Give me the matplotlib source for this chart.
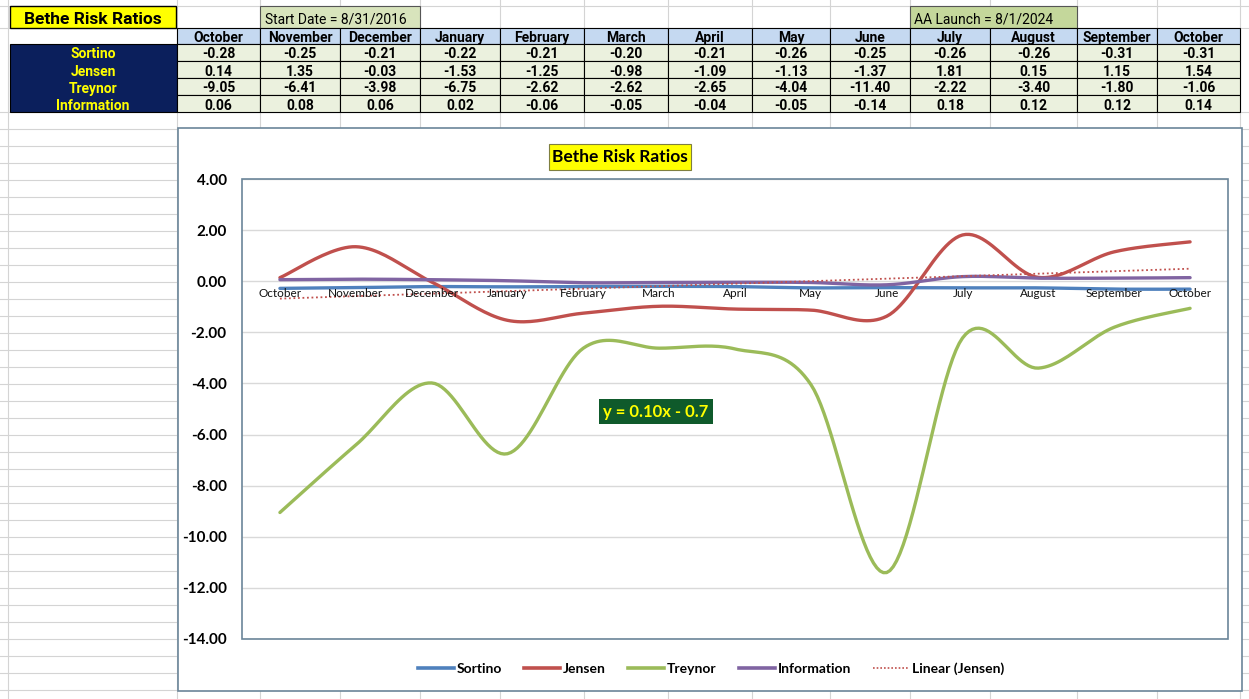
import numpy as np
import matplotlib.pyplot as plt
from matplotlib.patches import Rectangle
from matplotlib.lines import Line2D

W, H = 1249, 699

months = ['October', 'November', 'December', 'January', 'February', 'March', 'April',
          'May', 'June', 'July', 'August', 'September', 'October']
names = ['Sortino', 'Jensen', 'Treynor', 'Information']
sortino = [-0.28, -0.25, -0.21, -0.22, -0.21, -0.20, -0.21, -0.26, -0.25, -0.26, -0.26, -0.31, -0.31]
jensen = [0.14, 1.35, -0.03, -1.53, -1.25, -0.98, -1.09, -1.13, -1.37, 1.81, 0.15, 1.15, 1.54]
treynor = [-9.05, -6.41, -3.98, -6.75, -2.62, -2.62, -2.65, -4.04, -11.40, -2.22, -3.40, -1.80, -1.06]
information = [0.06, 0.08, 0.06, 0.02, -0.06, -0.05, -0.04, -0.05, -0.14, 0.18, 0.12, 0.12, 0.14]
series = [sortino, jensen, treynor, information]
colors = ['#4f81bd', '#c0504d', '#9bbb59', '#8064a2']
trend_label = 'y = 0.10x - 0.7'

NARROW = ['Roboto', 'DejaVu Sans']
CAL = ['Lato', 'DejaVu Sans']

# column edges of the sheet (pixels)
col_edges = [177, 260, 340, 420, 500, 584, 668, 752, 830, 910, 990, 1077, 1157, 1240]
row_edges = [28, 44, 61, 78, 95, 112]


def smooth(xs, ys, n=24):
    # excel style smoothed line (catmull-rom through the points)
    p = np.column_stack([xs, ys]).astype(float)
    p = np.vstack([p[0], p, p[-1]])
    out = []
    t = np.linspace(0, 1, n)[:, None]
    for i in range(1, len(p) - 2):
        p0, p1, p2, p3 = p[i - 1], p[i], p[i + 1], p[i + 2]
        c1 = p1 + (p2 - p0) / 6
        c2 = p2 - (p3 - p1) / 6
        seg = (1 - t) ** 3 * p1 + 3 * (1 - t) ** 2 * t * c1 + 3 * (1 - t) * t ** 2 * c2 + t ** 3 * p2
        out.append(seg if i == 1 else seg[1:])
    out = np.vstack(out)
    return out[:, 0], out[:, 1]


fig = plt.figure(figsize=(W / 100, H / 100), dpi=100)
bg = fig.add_axes([0, 0, 1, 1])
bg.set_xlim(0, W)
bg.set_ylim(H, 0)
bg.axis('off')

# spreadsheet grid
grid_c = '#d4d4d4'
for x in [8] + col_edges:
    bg.plot([x, x], [0, H], color=grid_c, lw=0.8, zorder=0)
for y in [6, 28] + list(np.arange(112, H, 17.0)):
    bg.plot([0, W], [y, y], color=grid_c, lw=0.8, zorder=0)

# title cells
bg.add_patch(Rectangle((10, 6), 166, 22, facecolor='#ffff00', edgecolor='black', lw=1, zorder=2))
bg.text(93, 17.5, 'Bethe Risk Ratios', ha='center', va='center_baseline', fontsize=12.5,
        fontweight='bold', family=NARROW, zorder=3)
bg.add_patch(Rectangle((260, 6), 160, 22, facecolor='#d8e4bc', edgecolor='#555555', lw=0.8, zorder=2))
bg.text(265, 18, 'Start Date = 8/31/2016', ha='left', va='center_baseline', fontsize=10,
        family=NARROW, zorder=3)
bg.add_patch(Rectangle((910, 6), 167, 22, facecolor='#c4d79b', edgecolor='#555555', lw=0.8, zorder=2))
bg.text(914, 18, 'AA Launch = 8/1/2024', ha='left', va='center_baseline', fontsize=10,
        family=NARROW, zorder=3)

# header row
for i, m in enumerate(months):
    x0, x1 = col_edges[i], col_edges[i + 1]
    bg.add_patch(Rectangle((x0, 28), x1 - x0, 16, facecolor='#c5d9f1', edgecolor='black', lw=0.8, zorder=2))
    bg.text((x0 + x1) / 2, 36.5, m, ha='center', va='center_baseline', fontsize=10,
            fontweight='bold', family=NARROW, zorder=3)

# label column + values
bg.add_patch(Rectangle((10, 44), 167, 68, facecolor='#0b1f5c', edgecolor='black', lw=0.8, zorder=2))
for r, (name, vals) in enumerate(zip(names, series)):
    y0, y1 = row_edges[r + 1], row_edges[r + 2]
    yc = (y0 + y1) / 2 + 0.5
    bg.text(93, yc, name, ha='center', va='center_baseline', fontsize=10, fontweight='bold',
            color='#ffff00', family=NARROW, zorder=3)
    for i, v in enumerate(vals):
        x0, x1 = col_edges[i], col_edges[i + 1]
        bg.add_patch(Rectangle((x0, y0), x1 - x0, y1 - y0, facecolor='#ebf1de', edgecolor='black',
                               lw=0.8, zorder=2))
        bg.text((x0 + x1) / 2, yc, f'{v:.2f}', ha='center', va='center_baseline', fontsize=10,
                fontweight='bold', family=NARROW, zorder=3)

# chart area
bg.add_patch(Rectangle((178, 128), 1064, 563, facecolor='white', edgecolor='#6b8599', lw=1.2, zorder=4))
bg.add_patch(Rectangle((549, 144), 142, 26, facecolor='#ffff00', edgecolor='#7f7f3f', lw=0.8, zorder=5))
bg.text(620, 157.5, 'Bethe Risk Ratios', ha='center', va='center', fontsize=12.5, fontweight='bold',
        family=CAL, zorder=6)

ax = fig.add_axes([242 / W, 1 - 639 / H, 986 / W, 460 / H])
ax.set_zorder(5)
ax.patch.set_alpha(0)
ax.set_xlim(-0.5, 12.5)
ax.set_ylim(-14, 4)
ax.set_yticks(np.arange(-14, 5, 2))
ax.set_yticklabels([f'{v:.2f}' for v in np.arange(-14, 5, 2)], fontsize=11, fontweight='bold',
                   family=CAL)
ax.tick_params(axis='y', length=0, pad=11)
ax.set_xticks([])
ax.grid(axis='y', color='#d9d9d9', lw=1)
ax.set_axisbelow(True)
for s in ax.spines.values():
    s.set_visible(False)
ax.add_patch(Rectangle((0, 0), 1, 1, transform=ax.transAxes, fill=False, edgecolor='#6b8599',
                       lw=1.2, clip_on=False, zorder=1))

xs = np.arange(len(months))
for name, vals, c in zip(names, series, colors):
    sx, sy = smooth(xs, vals)
    ax.plot(sx, sy, color=c, lw=2.4, label=name, solid_capstyle='round', zorder=3)

slope, icpt = np.polyfit(xs + 1, jensen, 1)
ax.plot(xs, slope * (xs + 1) + icpt, color='#c0504d', lw=1.3, ls=(0, (1, 1.5)),
        label='Linear (Jensen)', zorder=4)

for i, m in enumerate(months):
    ax.text(i, -0.28, m, ha='center', va='top', fontsize=8.5, color='#111111', family=CAL, zorder=5)

ax.text(4.96, -5.1, trend_label, ha='center', va='center', fontsize=12,
        fontweight='bold', color='#ffff00', family=CAL,
        bbox=dict(boxstyle='square,pad=0.25', facecolor='#0f5a2b', edgecolor='none'), zorder=6)

handles = [Line2D([], [], color=c, lw=2.6) for c in colors]
handles.append(Line2D([], [], color='#c0504d', lw=1.2, ls=(0, (1, 1.2))))
leg = fig.legend(handles, names + ['Linear (Jensen)'], loc='center', ncol=5,
                 bbox_to_anchor=(711 / W, 1 - 669 / H), frameon=False, handlelength=2.6,
                 handletextpad=0.2, columnspacing=1.6, prop=dict(family=CAL, weight='bold', size=10))
leg.set_zorder(7)

fig.savefig('out.png', dpi=100)
